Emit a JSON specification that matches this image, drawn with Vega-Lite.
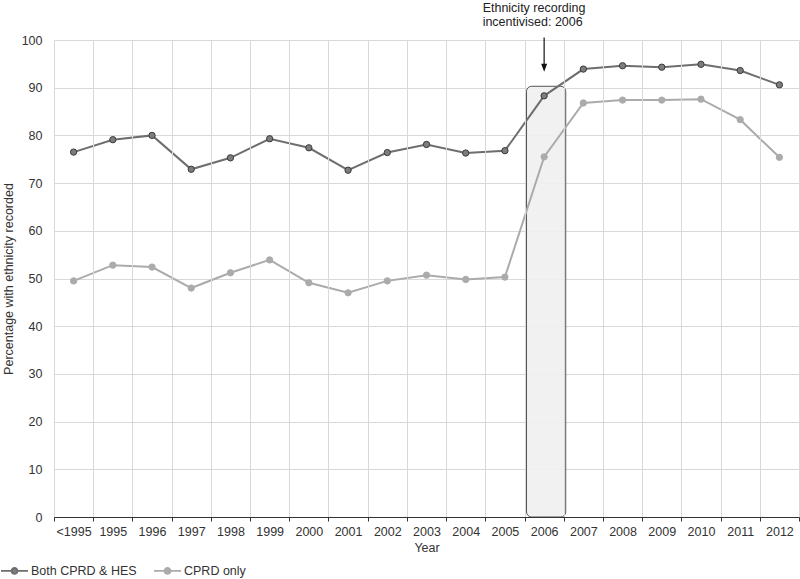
{
  "$schema": "https://vega.github.io/schema/vega-lite/v6.json",
  "width": 745,
  "height": 477,
  "autosize": {"type": "none"},
  "padding": {"left": 54, "top": 40, "right": 1, "bottom": 62},
  "background": "white",
  "config": {
    "view": {"stroke": null},
    "font": "Liberation Sans",
    "axisY": {
      "ticks": false,
      "tickCount": 10,
      "labelFontSize": 12.5,
      "labelColor": "#333333",
      "labelPadding": 12,
      "titleFontSize": 12.5,
      "titleFontWeight": "normal",
      "titleColor": "#333333",
      "titlePadding": 6,
      "domainColor": "#d9d9d9",
      "grid": true,
      "gridColor": "#d9d9d9",
      "gridWidth": 1
    }
  },
  "datasets": {
    "series": [
      {"Year": "<1995", "Series": "Both CPRD & HES", "Pct": 76.5},
      {"Year": "1995", "Series": "Both CPRD & HES", "Pct": 79.1},
      {"Year": "1996", "Series": "Both CPRD & HES", "Pct": 80.0},
      {"Year": "1997", "Series": "Both CPRD & HES", "Pct": 72.9},
      {"Year": "1998", "Series": "Both CPRD & HES", "Pct": 75.3},
      {"Year": "1999", "Series": "Both CPRD & HES", "Pct": 79.3},
      {"Year": "2000", "Series": "Both CPRD & HES", "Pct": 77.4},
      {"Year": "2001", "Series": "Both CPRD & HES", "Pct": 72.7},
      {"Year": "2002", "Series": "Both CPRD & HES", "Pct": 76.4},
      {"Year": "2003", "Series": "Both CPRD & HES", "Pct": 78.1},
      {"Year": "2004", "Series": "Both CPRD & HES", "Pct": 76.3},
      {"Year": "2005", "Series": "Both CPRD & HES", "Pct": 76.8},
      {"Year": "2006", "Series": "Both CPRD & HES", "Pct": 88.3},
      {"Year": "2007", "Series": "Both CPRD & HES", "Pct": 93.9},
      {"Year": "2008", "Series": "Both CPRD & HES", "Pct": 94.6},
      {"Year": "2009", "Series": "Both CPRD & HES", "Pct": 94.3},
      {"Year": "2010", "Series": "Both CPRD & HES", "Pct": 94.9},
      {"Year": "2011", "Series": "Both CPRD & HES", "Pct": 93.6},
      {"Year": "2012", "Series": "Both CPRD & HES", "Pct": 90.6},
      {"Year": "<1995", "Series": "CPRD only", "Pct": 49.5},
      {"Year": "1995", "Series": "CPRD only", "Pct": 52.8},
      {"Year": "1996", "Series": "CPRD only", "Pct": 52.4},
      {"Year": "1997", "Series": "CPRD only", "Pct": 48.0},
      {"Year": "1998", "Series": "CPRD only", "Pct": 51.2},
      {"Year": "1999", "Series": "CPRD only", "Pct": 53.9},
      {"Year": "2000", "Series": "CPRD only", "Pct": 49.1},
      {"Year": "2001", "Series": "CPRD only", "Pct": 47.0},
      {"Year": "2002", "Series": "CPRD only", "Pct": 49.5},
      {"Year": "2003", "Series": "CPRD only", "Pct": 50.7},
      {"Year": "2004", "Series": "CPRD only", "Pct": 49.8},
      {"Year": "2005", "Series": "CPRD only", "Pct": 50.3},
      {"Year": "2006", "Series": "CPRD only", "Pct": 75.5},
      {"Year": "2007", "Series": "CPRD only", "Pct": 86.8},
      {"Year": "2008", "Series": "CPRD only", "Pct": 87.4},
      {"Year": "2009", "Series": "CPRD only", "Pct": 87.4},
      {"Year": "2010", "Series": "CPRD only", "Pct": 87.6},
      {"Year": "2011", "Series": "CPRD only", "Pct": 83.3},
      {"Year": "2012", "Series": "CPRD only", "Pct": 75.4}
    ],
    "highlight": [{"Year": "2006", "top": 90.3, "bottom": 0}],
    "arrow": [{"Year": "2006", "from": 100.5, "to": 94.3, "tip": 94.2}],
    "notes": [
      {"Year": "2006", "line": "Ethnicity recording", "ypos": 105.9},
      {"Year": "2006", "line": "incentivised:  2006", "ypos": 103.0}
    ]
  },
  "encoding": {
    "x": {
      "field": "Year",
      "type": "nominal",
      "sort": ["<1995","1995","1996","1997","1998","1999","2000","2001","2002","2003","2004","2005","2006","2007","2008","2009","2010","2011","2012"],
      "scale": {
        "type": "band",
        "paddingInner": 0,
        "paddingOuter": 0,
        "domain": ["<1995","1995","1996","1997","1998","1999","2000","2001","2002","2003","2004","2005","2006","2007","2008","2009","2010","2011","2012"]
      },
      "axis": {
        "title": "Year",
        "tickBand": "extent",
        "labelAngle": 0,
        "labelFontSize": 12.5,
        "labelColor": "#333333",
        "labelPadding": 4,
        "titleFontSize": 12.5,
        "titleFontWeight": "normal",
        "titleColor": "#333333",
        "titlePadding": 4,
        "domainColor": "#333333",
        "domainWidth": 1.2,
        "tickColor": "#333333",
        "tickSize": 4,
        "grid": true,
        "gridColor": "#d9d9d9",
        "gridWidth": 1
      }
    }
  },
  "layer": [
    {
      "data": {"name": "highlight"},
      "mark": {"type": "rect", "fill": "#f0f0f0", "fillOpacity": 0.9, "stroke": "#555555", "strokeWidth": 1, "cornerRadius": 5, "xOffset": 2, "x2Offset": 2},
      "encoding": {
        "y": {"field": "top", "type": "quantitative", "scale": {"domain": [0, 100], "nice": false}, "title": "Percentage with ethnicity recorded"},
        "y2": {"field": "bottom"}
      }
    },
    {
      "data": {"name": "series"},
      "layer": [
        {
          "mark": {"type": "line", "strokeWidth": 2},
          "encoding": {
            "x": {"field": "Year", "type": "nominal", "bandPosition": 0.5},
            "y": {"field": "Pct", "type": "quantitative", "title": "Percentage with ethnicity recorded"},
            "color": {
              "field": "Series",
              "type": "nominal",
              "scale": {"domain": ["Both CPRD & HES", "CPRD only"], "range": ["#6e6e6e", "#ababab"]},
              "legend": {
                "orient": "none",
                "legendX": -54,
                "legendY": 516,
                "direction": "horizontal",
                "title": null,
                "symbolType": "M-1,0H-0.22M0.22,0H1M-0.22,0A0.22,0.22 0 1,0 0.22,0A0.22,0.22 0 1,0 -0.22,0Z",
                "symbolSize": 729,
                "symbolStrokeWidth": 1.8,
                "labelFontSize": 12.5,
                "labelColor": "#333333",
                "labelOffset": 2,
                "columnPadding": 13,
                "encode": {
                  "symbols": {
                    "update": {
                      "fill": {"scale": "color", "field": "value"},
                      "stroke": {"scale": "color", "field": "value"}
                    }
                  }
                }
              }
            }
          }
        },
        {
          "mark": {"type": "point", "filled": true, "size": 40, "opacity": 1, "strokeWidth": 1},
          "encoding": {
            "x": {"field": "Year", "type": "nominal", "bandPosition": 0.5},
            "y": {"field": "Pct", "type": "quantitative", "title": "Percentage with ethnicity recorded"},
            "fill": {
              "field": "Series",
              "type": "nominal",
              "scale": {"domain": ["Both CPRD & HES", "CPRD only"], "range": ["#7d7d7d", "#ababab"]},
              "legend": null
            },
            "stroke": {
              "field": "Series",
              "type": "nominal",
              "scale": {"domain": ["Both CPRD & HES", "CPRD only"], "range": ["#3a3a3a", "#ababab"]},
              "legend": null
            }
          }
        }
      ]
    },
    {
      "data": {"name": "arrow"},
      "layer": [
        {
          "mark": {"type": "rule", "color": "#111111", "strokeWidth": 1.2},
          "encoding": {
            "x": {"field": "Year", "type": "nominal", "bandPosition": 0.5},
            "y": {"field": "from", "type": "quantitative", "title": "Percentage with ethnicity recorded"},
            "y2": {"field": "to"}
          }
        },
        {
          "mark": {"type": "point", "shape": "M-1,-1.33L1,-1.33L0,1.33Z", "filled": true, "color": "#111111", "size": 36, "opacity": 1},
          "encoding": {
            "x": {"field": "Year", "type": "nominal", "bandPosition": 0.5},
            "y": {"field": "tip", "type": "quantitative", "title": "Percentage with ethnicity recorded"}
          }
        }
      ]
    },
    {
      "data": {"name": "notes"},
      "mark": {"type": "text", "align": "left", "baseline": "alphabetic", "dx": -61.5, "fontSize": 12.5, "color": "#222222"},
      "encoding": {
        "x": {"field": "Year", "type": "nominal", "bandPosition": 0.5},
        "y": {"field": "ypos", "type": "quantitative", "title": "Percentage with ethnicity recorded"},
        "text": {"field": "line"}
      }
    }
  ]
}
